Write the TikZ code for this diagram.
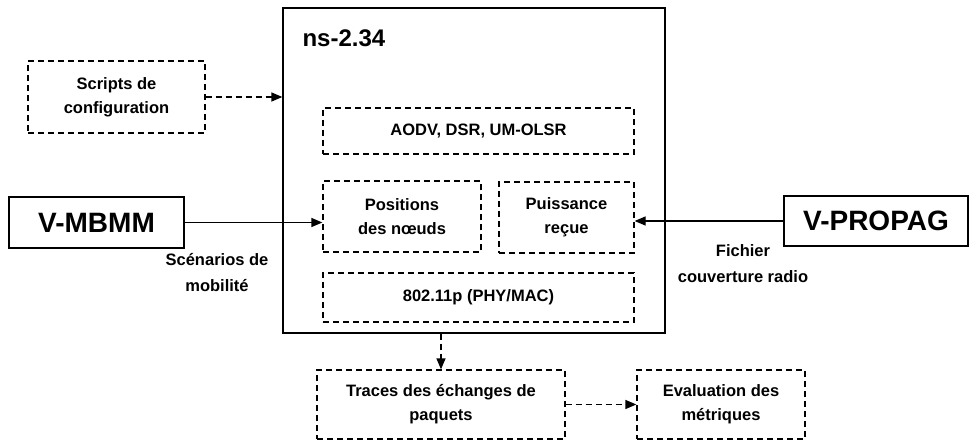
\documentclass[tikz,border=0pt]{standalone}
\usepackage{fontspec}
\setmainfont{Liberation Sans}
\usetikzlibrary{arrows.meta,positioning}
\newcommand{\comma}{,}

\begin{document}
\begin{tikzpicture}[x=1pt,y=-1pt,
    dbox/.style={draw,dash pattern=on 6pt off 4pt,line width=1.3pt,align=center,inner sep=0pt,font=\fontsize{16.5}{24}\selectfont\bfseries},
    sbox/.style={draw,line width=1.3pt,inner sep=0pt,font=\fontsize{28}{30}\selectfont\bfseries},
    lbl/.style={align=center,font=\fontsize{16.5}{26}\selectfont\bfseries},
    flow/.style={-{Triangle[length=11pt,width=9pt]},line width=1.3pt}]
    \useasboundingbox (0,0) rectangle (977,441);
    \node[draw,line width=1.3pt,minimum width=382pt,minimum height=325pt] (ns) at (474,170.5) {};
    \node[font=\fontsize{24}{26}\selectfont\bfseries,anchor=west] (nslbl) at (299,38) {ns-2.34};
    \foreach \n/\x/\y/\w/\h/\t in {
      scripts/116.5/97/177/72/{Scripts de\\configuration},
      aodv/478.5/131/311/46/{AODV\comma{} DSR\comma{} UM-OLSR},
      pos/402/216.5/158/71/{Positions\\des nœuds},
      puis/566.5/217.5/135/71/{Puissance\\reçue},
      phy/478.5/297.5/311/49/{802.11p (PHY/MAC)},
      traces/441/404.5/248/69/{Traces des échanges de\\paquets},
      eval/721/404.5/168/69/{Evaluation des\\métriques}}
    {
      \node[dbox,minimum width=\w pt,minimum height=\h pt] (\n) at (\x,\y) {\t};
    }
    \node[sbox,minimum width=175pt,minimum height=51pt] (mbmm) at (96.5,222.5) {V-MBMM};
    \node[sbox,minimum width=184pt,minimum height=50pt] (propag) at (876,221) {V-PROPAG};
    \node[lbl] (scen) at (217,273) {Scénarios de\\mobilité};
    \node[lbl] (fich) at (743,264) {Fichier\\couverture radio};
    \draw[flow,dash pattern=on 6pt off 4pt] (scripts.east) -- (scripts.east -| ns.west);
    \draw[flow] (mbmm.east) -- (mbmm.east -| pos.west);
    \draw[flow] (propag.west) -- (propag.west -| puis.east);
    \draw[flow,dash pattern=on 6pt off 4pt] (ns.south -| traces.north) -- (traces.north);
    \draw[flow,dash pattern=on 6pt off 4pt] (traces.east) -- (traces.east -| eval.west);
  \end{tikzpicture}
\end{document}
